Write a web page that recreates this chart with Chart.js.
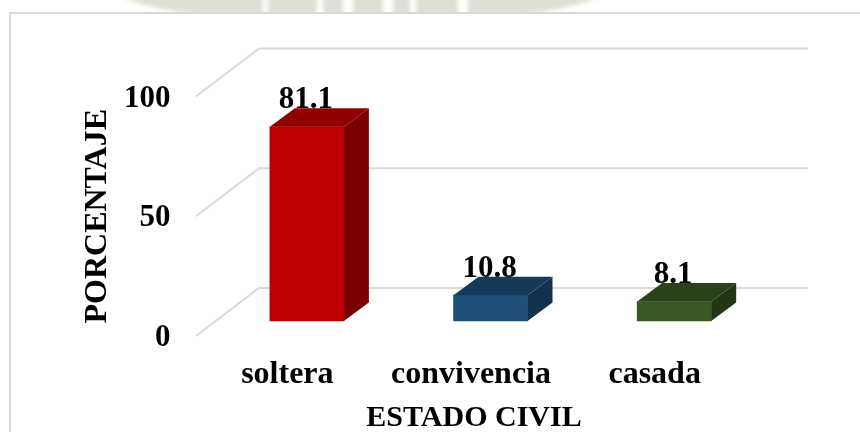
<!DOCTYPE html>
<html>
<head>
<meta charset="utf-8">
<style>
  html, body { margin: 0; padding: 0; background: #fff; }
  #wrap { position: relative; width: 860px; height: 432px; overflow: hidden; }
  /* bit of the page watermark showing above the chart frame */
  #mark {
    position: absolute; left: 120px; top: -41px; width: 480px; height: 64px; border-radius: 50%;
    filter: blur(2px);
    background: linear-gradient(90deg,
      #dfe0d3 143px, #fff 143px, #fff 148px, #dfe0d3 148px,
      #dfe0d3 197px, #fff 197px, #fff 203px, #dfe0d3 203px,
      #dfe0d3 223px, #fff 223px, #fff 233px, #dfe0d3 233px,
      #dfe0d3 263px, #fff 263px, #fff 273px, #dfe0d3 273px,
      #dfe0d3 290px, #fff 290px, #fff 296px, #dfe0d3 296px,
      #dfe0d3 338px, #fff 338px, #fff 348px, #dfe0d3 348px);
  }
  #frame { position: absolute; left: 9px; top: 12px; width: 860px; height: 430px; border: 2px solid #d9d9d9; background: #fff; }
  canvas { position: absolute; left: 0; top: 0; }
</style>
</head>
<body>
<div id="wrap">
  <div id="mark"></div>
  <div id="frame"></div>
  <canvas id="estadoChart" width="860" height="432"></canvas>
</div>
<script src="https://cdn.jsdelivr.net/npm/chart.js@4"></script>
<script>
const categories = ['soltera', 'convivencia', 'casada'];
const porcentaje = [81.1, 10.8, 8.1];
const yTicks = [0, 50, 100];
const frontColors = ['#c00000', '#1f4e79', '#385723'];
const topColors = ['#900000', '#173a5b', '#2a411a'];
const sideColors = ['#7a0000', '#14314d', '#233716'];

const FAMILY = '"Liberation Serif", "Times New Roman", serif';
const FONT = { family: FAMILY, size: 31, weight: 'bold' };
const PX_PER_UNIT = 2.395;   // front plane, 100 units = 239.5px
const BAR_SHIFT = 15;        // bars stand this far behind the front of the floor
const DX = 25, DY = 18.5;    // bar depth
const WALL_DX = 63, WALL_DY = 48;

// grid lines on the floor edge and the back wall, behind the bars
const wallPlugin = {
  id: 'wall',
  beforeDatasetsDraw(chart) {
    const ctx = chart.ctx;
    const y = chart.scales.y;
    ctx.save();
    ctx.strokeStyle = '#d9d9d9';
    ctx.lineWidth = 2;
    yTicks.forEach(v => {
      const py = y.getPixelForValue(v);
      ctx.beginPath();
      ctx.moveTo(196, py);
      ctx.lineTo(196 + WALL_DX, py - WALL_DY);
      ctx.lineTo(808, py - WALL_DY);
      ctx.stroke();
    });
    ctx.restore();
  }
};

// top and side faces of the bars plus the value labels
const boxPlugin = {
  id: 'box',
  afterDatasetsDraw(chart) {
    const ctx = chart.ctx;
    const bars = chart.getDatasetMeta(0).data;
    ctx.save();
    bars.forEach((bar, i) => {
      const left = bar.x - bar.width / 2;
      const right = bar.x + bar.width / 2;
      ctx.fillStyle = topColors[i];
      ctx.beginPath();
      ctx.moveTo(left, bar.y);
      ctx.lineTo(left + DX, bar.y - DY);
      ctx.lineTo(right + DX, bar.y - DY);
      ctx.lineTo(right, bar.y);
      ctx.closePath();
      ctx.fill();
      ctx.fillStyle = sideColors[i];
      ctx.beginPath();
      ctx.moveTo(right, bar.y);
      ctx.lineTo(right + DX, bar.y - DY);
      ctx.lineTo(right + DX, bar.base - DY);
      ctx.lineTo(right, bar.base);
      ctx.closePath();
      ctx.fill();
    });
    ctx.fillStyle = '#000';
    ctx.font = `${FONT.weight} ${FONT.size}px ${FONT.family}`;
    ctx.textAlign = 'center';
    ctx.textBaseline = 'alphabetic';
    bars.forEach((bar, i) => {
      ctx.fillText(porcentaje[i].toFixed(1), bar.x - 1, bar.y - DY);
    });
    ctx.restore();
  }
};

new Chart(document.getElementById('estadoChart'), {
  type: 'bar',
  data: {
    labels: categories,
    datasets: [{
      data: porcentaje.map((v, i) => ({ x: i, y: v })),
      xAxisID: 'xBar',
      yAxisID: 'yBar',
      backgroundColor: frontColors,
      barThickness: 74
    }]
  },
  plugins: [wallPlugin, boxPlugin],
  options: {
    responsive: false,
    animation: false,
    layout: { padding: { left: 79, top: 96.5, right: 860 - 749.5, bottom: 0 } },
    plugins: { legend: { display: false }, tooltip: { enabled: false } },
    scales: {
      x: {
        type: 'category',
        offset: true,
        grid: { display: false },
        border: { display: false },
        ticks: { color: '#000', font: { family: FAMILY, size: 32, weight: 'bold' }, padding: 12, labelOffset: -3, maxRotation: 0, autoSkip: false },
        title: { display: true, text: 'ESTADO CIVIL', color: '#000', font: { family: FAMILY, size: 30, weight: 'bold' }, padding: { top: 0, bottom: -4 } },
        afterFit(s) { s.height = 432 - 336; }
      },
      xBar: {
        type: 'linear',
        display: false,
        offset: false,
        // centres of the bars at 307, 491, 674.5
        min: -0.59,
        max: 2.41
      },
      y: {
        min: 0,
        max: 100,
        afterBuildTicks(s) { s.ticks = yTicks.map(v => ({ value: v })); },
        grid: { display: false },
        border: { display: false },
        ticks: { color: '#000', font: FONT, padding: 20, labelOffset: 2 },
        title: { display: true, text: 'PORCENTAJE', color: '#000', font: { family: FAMILY, size: 32, weight: 'bold' }, padding: 0 },
        afterFit(s) { s.width = 119.5; }
      },
      yBar: {
        display: false,
        min: -BAR_SHIFT / PX_PER_UNIT,
        max: 100 - BAR_SHIFT / PX_PER_UNIT
      }
    }
  }
});
</script>
</body>
</html>
